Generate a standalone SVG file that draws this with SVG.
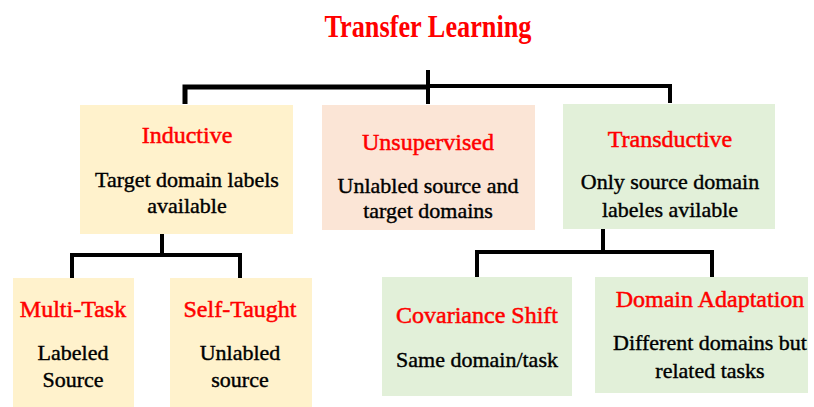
<svg xmlns="http://www.w3.org/2000/svg" width="814" height="407" viewBox="0 0 814 407">
<style>
  .yel{fill:#FFF2CC}
  .peach{fill:#FBE5D6}
  .grn{fill:#E2F0D9}
  .hd{font-family:"Liberation Serif","Times New Roman",serif;font-size:24px;fill:#FF0000;stroke:#FF0000;stroke-width:0.5px;text-anchor:middle}
  .bd{font-family:"Liberation Serif","Times New Roman",serif;font-size:22px;fill:#000;stroke:#000;stroke-width:0.4px;text-anchor:middle}
  .ln{stroke:#000;fill:none;stroke-linecap:butt}
</style>
<rect width="814" height="407" fill="#fff"/>
<g id="title">
  <text x="428" y="37" font-family="Liberation Serif, Times New Roman, serif" font-size="31" font-weight="bold" fill="#FF0000" text-anchor="middle" textLength="207" lengthAdjust="spacingAndGlyphs">Transfer Learning</text>
</g>
<g id="connectors">
  <line class="ln" x1="428" y1="70" x2="428" y2="104" stroke-width="4"/>
  <polyline class="ln" points="185,104 185,87 428,87" stroke-width="5"/>
  <polyline class="ln" points="428,86 670,86 670,103" stroke-width="4"/>
  <line class="ln" x1="162" y1="234" x2="162" y2="255" stroke-width="4"/>
  <polyline class="ln" points="72,278 72,255 240,255 240,278" stroke-width="4"/>
  <line class="ln" x1="603" y1="229" x2="603" y2="252" stroke-width="4"/>
  <polyline class="ln" points="477,277 477,252 712,252 712,277" stroke-width="4"/>
</g>
<g id="inductive">
  <rect class="yel" x="80" y="105" width="213" height="129"/>
  <text class="hd" x="187" y="143">Inductive</text>
  <text class="bd" x="187" y="187">Target domain labels</text>
  <text class="bd" x="187" y="213">available</text>
</g>
<g id="unsupervised">
  <rect class="peach" x="322" y="105" width="213" height="125"/>
  <text class="hd" x="428" y="150">Unsupervised</text>
  <text class="bd" x="428" y="193">Unlabled source and</text>
  <text class="bd" x="428" y="218">target domains</text>
</g>
<g id="transductive">
  <rect class="grn" x="563" y="104" width="212" height="125"/>
  <text class="hd" x="670" y="147">Transductive</text>
  <text class="bd" x="670" y="189">Only source domain</text>
  <text class="bd" x="670" y="217">labeles avilable</text>
</g>
<g id="multitask">
  <rect class="yel" x="13" y="278" width="121" height="129"/>
  <text class="hd" x="73" y="317">Multi-Task</text>
  <text class="bd" x="73" y="360">Labeled</text>
  <text class="bd" x="73" y="387">Source</text>
</g>
<g id="selftaught">
  <rect class="yel" x="170" y="278" width="142" height="129"/>
  <text class="hd" x="240" y="317">Self-Taught</text>
  <text class="bd" x="240" y="360">Unlabled</text>
  <text class="bd" x="240" y="387">source</text>
</g>
<g id="covariance">
  <rect class="grn" x="382" y="277" width="190" height="119"/>
  <text class="hd" x="477" y="323">Covariance Shift</text>
  <text class="bd" x="477" y="367">Same domain/task</text>
</g>
<g id="domainadaptation">
  <rect class="grn" x="595" y="277" width="213" height="116"/>
  <text class="hd" x="710" y="307">Domain Adaptation</text>
  <text class="bd" x="710" y="350">Different domains but</text>
  <text class="bd" x="710" y="378">related tasks</text>
</g>
</svg>
